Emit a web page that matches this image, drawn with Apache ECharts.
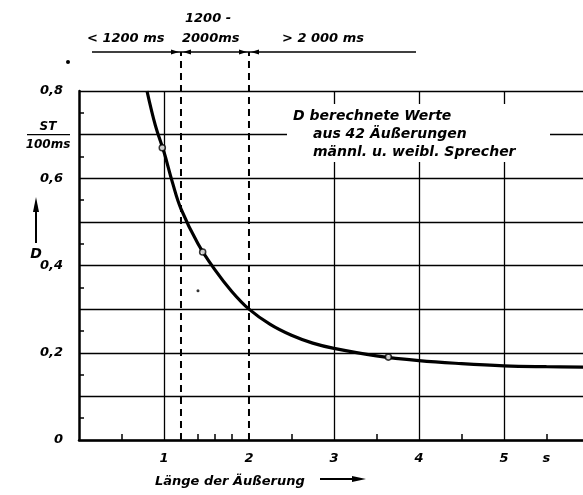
<!DOCTYPE html>
<html><head><meta charset="utf-8">
<script src="https://cdn.jsdelivr.net/npm/echarts@6/dist/echarts.min.js"></script>
<style>html,body{margin:0;padding:0;background:#fff}#c{width:583px;height:495px}</style>
</head><body><div id="c"></div>
<script>
// fitted curve D(length)
const curveX = [0.8, 0.9, 1.0, 1.1, 1.2, 1.4, 1.6, 1.8, 2.0, 2.25, 2.5, 2.75, 3.0, 3.5, 4.0, 4.5, 5.0, 5.5, 6.0];
const curveY = [0.80, 0.72, 0.66, 0.59, 0.53, 0.45, 0.39, 0.34, 0.30, 0.265, 0.24, 0.222, 0.21, 0.193, 0.182, 0.175, 0.17, 0.168, 0.167];
// computed values (open circles)
const pointX = [0.98, 1.455, 3.64];
const pointY = [0.67, 0.431, 0.19];
// small stray dot
const dotX = [1.40];
const dotY = [0.342];
// axis labels / ticks
const xLabelValues = [1, 2, 3, 4, 5, 5.5];
const xLabelTexts = ['1', '2', '3', '4', '5', 's'];
const xMinorTicks = [0.5, 1.4, 1.6, 1.8, 2.5, 3.5, 4.5, 5.5];
const yLabelValues = [0, 0.2, 0.4, 0.6, 0.8];
const yLabelTexts = ['0', '0,2', '0,4', '0,6', '0,8'];
const yMinorTicks = [0.05, 0.15, 0.25, 0.35, 0.45, 0.55, 0.65, 0.75];
// vertical reference lines
const solidVerticals = [1, 3, 4, 5];
const dashedVerticals = [1.2, 2];
// texts
const rangeTexts = ['< 1200 ms', '1200 -', '2000ms', '> 2 000 ms'];
const noteLines = ['D berechnete Werte', 'aus 42 Äußerungen', 'männl. u. weibl. Sprecher'];
const xTitle = 'Länge der Äußerung';
const yUnitTop = 'ST';
const yUnitBottom = '100ms';
const yName = 'D';

const FONT = 'DejaVu Sans';
const X_MAX = 5.93; // the plot runs past the right edge of the picture
const chart = echarts.init(document.getElementById('c'), null, {renderer: 'canvas'});

const lblStyle = {color: '#000', fontFamily: FONT, fontStyle: 'italic', fontWeight: 'bold', fontSize: 13};

chart.setOption({
  animation: false,
  backgroundColor: '#fff',
  grid: {left: 79, top: 91, right: 0, bottom: 55, containLabel: false},
  xAxis: [{
    type: 'value', min: 0, max: X_MAX, interval: 1,
    axisLine: {show: true, onZero: false, lineStyle: {color: '#000', width: 2.5}},
    axisTick: {show: false},
    axisLabel: Object.assign({
      customValues: xLabelValues, margin: 12,
      formatter: v => { const i = xLabelValues.indexOf(v); return i >= 0 ? xLabelTexts[i] : ''; }
    }, lblStyle),
    splitLine: {show: false}
  }, {
    type: 'value', min: 0, max: X_MAX, position: 'bottom',
    axisLine: {show: false},
    axisTick: {show: true, inside: true, length: 6, customValues: xMinorTicks, lineStyle: {color: '#000', width: 1.5}},
    axisLabel: {show: false},
    splitLine: {show: false}
  }],
  yAxis: [{
    type: 'value', min: 0, max: 0.8, interval: 0.1,
    axisLine: {show: true, onZero: false, lineStyle: {color: '#000', width: 2.5}},
    axisTick: {show: false},
    axisLabel: Object.assign({
      customValues: yLabelValues, margin: 16,
      formatter: v => { const i = yLabelValues.findIndex(a => Math.abs(a - v) < 1e-9); return i >= 0 ? yLabelTexts[i] : ''; }
    }, lblStyle),
    splitLine: {show: true, lineStyle: {color: '#000', width: 1.3}}
  }, {
    type: 'value', min: 0, max: 0.8, position: 'left',
    axisLine: {show: false},
    axisTick: {show: true, inside: true, length: 5, customValues: yMinorTicks, lineStyle: {color: '#000', width: 1.5}},
    axisLabel: {show: false},
    splitLine: {show: false}
  }],
  series: [
    {
      type: 'line', data: [], silent: true,
      markLine: {
        silent: true, symbol: 'none', label: {show: false},
        lineStyle: {color: '#000', width: 1.3, type: 'solid'},
        data: solidVerticals.map(v => ({xAxis: v}))
      }
    },
    {
      type: 'line', smooth: 0.4, showSymbol: false, silent: true,
      lineStyle: {color: '#000', width: 3.2},
      data: curveX.map((x, i) => [x, curveY[i]]), z: 3
    },
    {
      type: 'scatter', symbol: 'circle', symbolSize: 6, silent: true,
      itemStyle: {color: '#fff', borderColor: '#000', borderWidth: 1.6},
      data: pointX.map((x, i) => [x, pointY[i]]), z: 5
    },
    {
      type: 'scatter', symbol: 'circle', symbolSize: 3, silent: true,
      itemStyle: {color: '#000'},
      data: dotX.map((x, i) => [x, dotY[i]]), z: 5
    }
  ]
});

// annotations positioned through the chart's own scales
const px = (x, y) => chart.convertToPixel({gridIndex: 0}, [x, y]);
const yBase = px(0, 0)[1];
const yTop = px(0, 0.8)[1];
const arrowY = yTop - 39;
const g = [];
const textStyle = (extra) => Object.assign({fill: '#000', fontFamily: FONT, fontStyle: 'italic', fontWeight: 'bold', fontSize: 13}, extra);

// dashed verticals spanning from axis up to the range arrow line
dashedVerticals.forEach(v => {
  const x = px(v, 0)[0];
  g.push({type: 'line', shape: {x1: x, y1: yBase, x2: x, y2: arrowY}, style: {stroke: '#000', lineWidth: 2, lineDash: [7, 5]}, z: 4});
});
const xd1 = px(dashedVerticals[0], 0)[0];
const xd2 = px(dashedVerticals[1], 0)[0];
// range line with arrowheads
g.push({type: 'line', shape: {x1: 92, y1: arrowY, x2: 416, y2: arrowY}, style: {stroke: '#000', lineWidth: 1.5}, z: 4});
function head(tipX, dir) {
  return {type: 'polygon', shape: {points: [[tipX, arrowY], [tipX - dir * 8, arrowY - 2.5], [tipX - dir * 8, arrowY + 2.5]]}, style: {fill: '#000'}, z: 4};
}
g.push(head(xd1 - 2, 1), head(xd1 + 2, -1), head(xd2 - 2, 1), head(xd2 + 2, -1));
g.push({type: 'circle', shape: {cx: 68, cy: 62, r: 2}, style: {fill: '#000'}});
g.push({type: 'text', x: 87, y: arrowY - 13, style: textStyle({text: rangeTexts[0], verticalAlign: 'middle'}), z: 4});
g.push({type: 'text', x: 185, y: arrowY - 33, style: textStyle({text: rangeTexts[1], verticalAlign: 'middle'}), z: 4});
g.push({type: 'text', x: 182, y: arrowY - 13, style: textStyle({text: rangeTexts[2], verticalAlign: 'middle'}), z: 4});
g.push({type: 'text', x: 282, y: arrowY - 13, style: textStyle({text: rangeTexts[3], verticalAlign: 'middle'}), z: 4});

// note box (masks grid lines)
g.push({type: 'rect', shape: {x: 287, y: 104, width: 263, height: 58}, style: {fill: '#fff'}, z: 6});
g.push({type: 'text', x: 293, y: 116, style: textStyle({text: noteLines[0], verticalAlign: 'middle', fontSize: 14}), z: 7});
g.push({type: 'text', x: 313, y: 134, style: textStyle({text: noteLines[1], verticalAlign: 'middle', fontSize: 14}), z: 7});
g.push({type: 'text', x: 313, y: 152, style: textStyle({text: noteLines[2], verticalAlign: 'middle', fontSize: 14}), z: 7});

// y unit fraction at 0.7
const y07 = px(0, 0.7)[1];
g.push({type: 'text', x: 48, y: y07 - 8, style: textStyle({text: yUnitTop, align: 'center', verticalAlign: 'middle', fontSize: 12})});
g.push({type: 'line', shape: {x1: 27, y1: y07, x2: 70, y2: y07}, style: {stroke: '#000', lineWidth: 1.3}});
g.push({type: 'text', x: 48, y: y07 + 10, style: textStyle({text: yUnitBottom, align: 'center', verticalAlign: 'middle', fontSize: 12})});
// y name with arrow
g.push({type: 'line', shape: {x1: 36, y1: 243, x2: 36, y2: 208}, style: {stroke: '#000', lineWidth: 2}});
g.push({type: 'polygon', shape: {points: [[36, 197], [33, 212], [39, 212]]}, style: {fill: '#000'}});
g.push({type: 'text', x: 36, y: 254, style: textStyle({text: yName, align: 'center', verticalAlign: 'middle', fontSize: 14})});

// x title with arrow
g.push({type: 'text', x: 155, y: 482, style: textStyle({text: xTitle, verticalAlign: 'middle', fontSize: 13})});
g.push({type: 'line', shape: {x1: 320, y1: 479, x2: 355, y2: 479}, style: {stroke: '#000', lineWidth: 2}});
g.push({type: 'polygon', shape: {points: [[366, 479], [352, 476], [352, 482]]}, style: {fill: '#000'}});

chart.setOption({graphic: {elements: g}});
</script>
</body></html>
